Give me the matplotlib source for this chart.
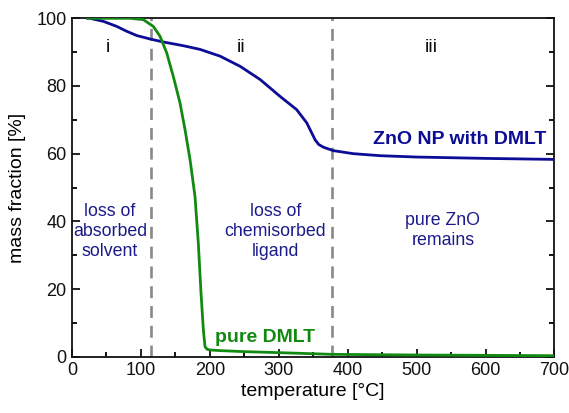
import matplotlib
matplotlib.use("Agg")
import matplotlib.pyplot as plt
from matplotlib.ticker import MultipleLocator

plt.rcParams['font.family'] = ['Liberation Sans', 'DejaVu Sans']

# ZnO NP with DMLT (blue)
T_np = [23, 26, 45.5, 65, 79, 94, 113, 132.5, 161.5, 186, 215, 244, 273, 302, 326, 340.6, 352.7, 358, 364.8, 379, 408, 447, 500, 600, 700]
m_np = [100, 100, 99.1, 97.6, 96.2, 94.9, 93.9, 93.0, 91.9, 90.8, 88.8, 85.8, 81.9, 76.9, 73.0, 69.1, 64.1, 62.7, 61.9, 60.9, 60.0, 59.4, 59.0, 58.6, 58.3]

# pure DMLT (green)
T_dm = [23, 60, 84, 103.5, 118, 127.7, 137.4, 147, 156.7, 164, 171.3, 178.5, 183.3, 187.2, 190.6, 193, 196, 200, 215, 250, 300, 377, 500, 700]
m_dm = [100, 100, 100, 99.6, 97.6, 94.7, 89.8, 82.8, 75.0, 67.1, 58.2, 47.3, 33.5, 18.8, 7.9, 3.0, 2.2, 2.0, 1.8, 1.5, 1.2, 0.7, 0.5, 0.3]

boundaries = [115, 377]
region_labels = ["i", "ii", "iii"]
region_x = [52, 245, 521]
notes = ["loss of\nabsorbed\nsolvent", "loss of\nchemisorbed\nligand", "pure ZnO\nremains"]
note_x = [55, 295, 538]
note_y = [37, 37, 37.3]

blue = "#0c0c96"
green = "#128a12"
navy_text = "#1a1a8a"

fig = plt.figure(figsize=(5.69, 4.13), dpi=100)
ax = fig.add_axes([0.1265, 0.1363, 0.848, 0.8194])

ax.plot(T_np, m_np, color=blue, lw=2.0, zorder=3, solid_joinstyle="round")
ax.plot(T_dm, m_dm, color=green, lw=2.0, zorder=3, solid_joinstyle="round")
for b in boundaries:
    ax.axvline(b, color="#888888", lw=1.9, ls=(0, (4.5, 3)), zorder=2)

for lab, x in zip(region_labels, region_x):
    ax.text(x, 91.3, lab, ha="center", va="center", fontsize=14, color="#111111")
for n, x, y in zip(notes, note_x, note_y):
    ax.text(x, y, n, ha="center", va="center", fontsize=12.8, color=navy_text, linespacing=1.22)

ax.text(563, 64.2, "ZnO NP with DMLT", ha="center", va="center", fontsize=14,
        fontweight="bold", color=blue)
ax.text(280, 5.8, "pure DMLT", ha="center", va="center", fontsize=14,
        fontweight="bold", color=green)

ax.set_xlim(0, 700)
ax.set_ylim(0, 100)
ax.xaxis.set_major_locator(MultipleLocator(100))
ax.xaxis.set_minor_locator(MultipleLocator(50))
ax.yaxis.set_major_locator(MultipleLocator(20))
ax.yaxis.set_minor_locator(MultipleLocator(10))
ax.tick_params(axis="both", which="major", direction="out", length=6, width=1.3, labelsize=13, colors="#111111", pad=4)
ax.tick_params(axis="both", which="minor", direction="out", length=3.5, width=1.3)
ax.tick_params(right=True, which="both", direction="in")
for s in ax.spines.values():
    s.set_linewidth(1.3)
    s.set_color("#111111")

ax.set_xlabel("temperature [°C]", fontsize=14, labelpad=3)
ax.set_ylabel("mass fraction [%]", fontsize=14, labelpad=7)

fig.savefig("out.png", dpi=100)
